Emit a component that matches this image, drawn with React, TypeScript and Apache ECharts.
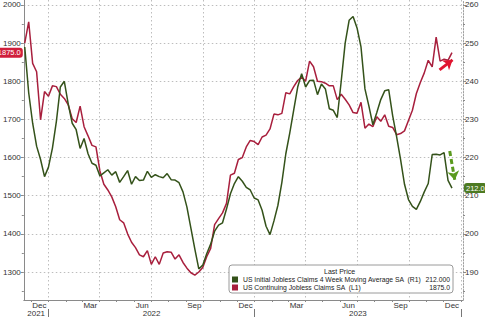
import React, { useEffect, useRef } from "react";
import * as echarts from "echarts";

// ---------- data ----------
const FIRST_WEEK = Date.UTC(2021, 10, 20);
const WEEK_MS = 7 * 86400000;

const continuingClaims = [
  1900, 1956, 1847, 1825, 1699, 1773, 1761, 1788, 1786, 1766,
  1755, 1738, 1702, 1692, 1735, 1681, 1657, 1632, 1628, 1565,
  1530, 1515, 1497, 1471, 1437, 1429, 1400, 1378, 1364, 1345,
  1340, 1356, 1320, 1340, 1320, 1350, 1353, 1352, 1334, 1345,
  1325, 1310, 1298, 1292, 1300, 1312, 1340, 1362, 1424, 1440,
  1455, 1480, 1554, 1559, 1595, 1600, 1628, 1645, 1642, 1634,
  1654, 1659, 1675, 1714, 1712, 1716, 1770, 1767, 1786, 1802,
  1811, 1800, 1853, 1838, 1800, 1799, 1795, 1788, 1788, 1752,
  1766, 1753, 1738, 1718, 1716, 1745, 1677, 1688, 1681, 1707,
  1695, 1712, 1682, 1679, 1660, 1663, 1670, 1697, 1724, 1768,
  1797, 1822, 1855, 1838, 1916, 1853, 1858, 1855, 1875,
];

const initialClaims4wk = [
  249, 237, 229, 223, 219.5, 215, 217.5, 222.5, 229.5, 238.5,
  240, 234, 229, 227.3, 222.4, 225, 221, 218.5, 218, 215.2,
  216, 216.8, 215.4, 216.3, 213.5, 215, 216.6, 213, 215, 214,
  214.1, 216.4, 214.8, 215.5, 215, 214.7, 215.8, 214.2, 214.1, 213.4,
  211, 207, 201.5, 196, 190.8, 191.8, 194.8, 197.3, 200.7, 202.3,
  202.9, 206.5, 210.5, 213.2, 215, 213.8, 212.2, 211.5, 209.4, 208.9,
  206.2, 202, 199.8, 203.4, 207.5, 213.5, 221, 226.5, 232.5, 238.5,
  242, 238.5, 240.2, 240.3, 236.5, 239.3, 238, 232.8, 232.4, 230.5,
  240, 250, 256, 257, 254, 249, 238, 233.5, 228.6, 231.8,
  235.2, 237.5, 237.8, 231, 225.5, 219.5, 213, 209, 207.2, 206.4,
  208.5, 211, 213.2, 220.8, 220.9, 220.7, 221.3, 214, 212,
];

const leftTicks = [1300, 1400, 1500, 1600, 1700, 1800, 1900, 2000];
const leftMinorTicks = [1250, 1350, 1450, 1550, 1650, 1750, 1850, 1950];
const rightTicks = [190, 200, 210, 220, 230, 240, 250, 260];
const rightMinorTicks = [185, 195, 205, 215, 225, 235, 245, 255];

const MONTH_NAMES = ["Jan", "Feb", "Mar", "Apr", "May", "Jun", "Jul", "Aug", "Sep", "Oct", "Nov", "Dec"];
const monthLabelDates: [number, number][] = [
  [2021, 11], [2022, 2], [2022, 5], [2022, 8], [2022, 11],
  [2023, 2], [2023, 5], [2023, 8], [2023, 11],
];
const yearLabels = [2021, 2022, 2023];

const NAME_INITIAL = "US Initial Jobless Claims 4 Week Moving Average SA";
const NAME_CONT = "US Continuing Jobless Claims SA";

// annotation arrows [date, value]
const redArrow: [number, number][] = [
  [Date.UTC(2023, 10, 24), 1830],
  [Date.UTC(2023, 11, 17), 1856],
];
const greenArrow: [number, number][] = [
  [Date.UTC(2023, 11, 12), 221.7],
  [Date.UTC(2023, 11, 21), 214.1],
];

// ---------- layout constants ----------
const X_MIN = Date.UTC(2021, 10, 18, 8);
const X_MAX = Date.UTC(2024, 0, 4, 12);
const FONT = "'Liberation Sans', Arial, sans-serif";
const RED = "#a81f3d";
const GREEN = "#34521a";
const GRID_COLOR = "#bdbdbd";
const AXIS_COLOR = "#8a8a8a";

const monthTicks: number[] = [];
for (let y = 2021; y <= 2024; y++) {
  for (let m = 0; m < 12; m++) {
    const t = Date.UTC(y, m, 1);
    if (t >= X_MIN && t <= X_MAX) monthTicks.push(t);
  }
}
const quarterStarts = monthTicks.filter((t) => new Date(t).getUTCMonth() % 3 === 0);
const yearStarts = monthTicks.filter((t) => new Date(t).getUTCMonth() === 0);
const monthLabelValues = monthLabelDates.map(([y, m]) => Date.UTC(y, m, 16));
const yearLabelValues = yearLabels.map((y) => {
  const a = Math.max(Date.UTC(y, 0, 1), X_MIN);
  const b = Math.min(Date.UTC(y + 1, 0, 1), X_MAX);
  return (a + b) / 2;
});

const dates = continuingClaims.map((_, i) => FIRST_WEEK + i * WEEK_MS);
const lastCont = continuingClaims[continuingClaims.length - 1];
const lastInit = initialClaims4wk[initialClaims4wk.length - 1];

const L_MIN = 1226.6, L_MAX = 2013.1;
const R_MIN = 182.66, R_MAX = 261.31;

export default function App() {
  const ref = useRef<HTMLDivElement>(null);
  useEffect(() => {
    document.body.style.margin = "0";
    const chart = echarts.init(ref.current!, null, { renderer: "svg" });
    const option: any = {
      animation: false,
      backgroundColor: "#ffffff",
      grid: { left: 18, right: 22, top: 0, bottom: 17 },
      xAxis: [
        {
          type: "value",
          min: X_MIN,
          max: X_MAX,
          position: "bottom",
          axisLine: { show: true, onZero: false, lineStyle: { color: AXIS_COLOR, width: 1 } },
          axisTick: { show: true, customValues: monthTicks, length: 2, lineStyle: { color: AXIS_COLOR } },
          axisLabel: {
            customValues: monthLabelValues,
            formatter: (v: number) => MONTH_NAMES[new Date(v).getUTCMonth()],
            fontSize: 8,
            fontFamily: FONT,
            color: "#333",
            margin: 1,
          },
          splitLine: { show: false },
        },
        {
          type: "value",
          min: X_MIN,
          max: X_MAX,
          position: "bottom",
          axisLine: { show: false, onZero: false },
          axisTick: { show: false, customValues: quarterStarts },
          axisLabel: { show: false },
          splitLine: { show: true, lineStyle: { color: GRID_COLOR, type: [1.5, 2.5], width: 1 } },
        },
        {
          type: "value",
          min: X_MIN,
          max: X_MAX,
          position: "bottom",
          offset: 9,
          axisLine: { show: false, onZero: false },
          axisTick: { show: true, customValues: yearStarts, length: 8, lineStyle: { color: "#777" } },
          axisLabel: {
            customValues: yearLabelValues,
            formatter: (v: number) => String(new Date(v).getUTCFullYear()),
            fontSize: 8,
            fontFamily: FONT,
            color: "#333",
            margin: 0,
          },
          splitLine: { show: false },
        },
      ],
      yAxis: [
        {
          type: "value",
          position: "left",
          min: L_MIN,
          max: L_MAX,
          axisLine: { show: true, onZero: false, lineStyle: { color: AXIS_COLOR } },
          axisTick: { show: true, customValues: leftTicks, length: 3, lineStyle: { color: AXIS_COLOR } },
          axisLabel: {
            customValues: leftTicks,
            formatter: (v: number) => String(v),
            fontSize: 8,
            fontFamily: FONT,
            color: "#333",
            margin: 3,
          },
          splitLine: { show: true, lineStyle: { color: GRID_COLOR, type: [1.5, 2.5], width: 1 } },
        },
        {
          type: "value",
          position: "right",
          min: R_MIN,
          max: R_MAX,
          axisLine: { show: true, onZero: false, lineStyle: { color: "#a0a0a0", type: [1.5, 1.5] } },
          axisTick: { show: true, customValues: rightTicks, length: 3, lineStyle: { color: AXIS_COLOR } },
          axisLabel: {
            customValues: rightTicks,
            formatter: (v: number) => String(v),
            fontSize: 8,
            fontFamily: FONT,
            color: "#333",
            margin: 2,
          },
          splitLine: { show: false },
        },
        {
          type: "value",
          position: "left",
          min: L_MIN,
          max: L_MAX,
          axisLine: { show: false, onZero: false },
          axisTick: { show: true, customValues: leftMinorTicks, length: 2, lineStyle: { color: AXIS_COLOR } },
          axisLabel: { show: false },
          splitLine: { show: false },
        },
        {
          type: "value",
          position: "right",
          min: R_MIN,
          max: R_MAX,
          axisLine: { show: false, onZero: false },
          axisTick: { show: true, customValues: rightMinorTicks, length: 2, lineStyle: { color: AXIS_COLOR } },
          axisLabel: { show: false },
          splitLine: { show: false },
        },
      ],
      legend: {
        orient: "vertical",
        left: 229,
        top: 265,
        data: [NAME_INITIAL, NAME_CONT],
        selectedMode: false,
        icon: "rect",
        itemWidth: 6,
        itemHeight: 6,
        itemGap: 1,
        padding: [11, 3, 2, 3],
        backgroundColor: "#ffffff",
        borderColor: "#9a9a9a",
        borderWidth: 1,
        borderRadius: 3,
        textStyle: {
          fontSize: 6.8,
          fontFamily: FONT,
          color: "#222",
          rich: {
            n: { width: 181, fontSize: 6.8, lineHeight: 8, fontFamily: FONT, color: "#222" },
            v: { width: 26, align: "right", fontSize: 6.8, lineHeight: 8, fontFamily: FONT, color: "#222" },
          },
        },
        formatter: (name: string) =>
          name === NAME_INITIAL
            ? `{n|${name}  (R1)}{v|${lastInit.toFixed(3)}}`
            : `{n|${name}  (L1)}{v|${lastCont.toFixed(1)}}`,
      },
      graphic: [
        {
          type: "text",
          x: 324,
          y: 268,
          z: 100,
          style: { text: "Last Price", fontSize: 7, fontFamily: FONT, fill: "#222" },
        },
      ],
      series: [
        {
          name: NAME_CONT,
          type: "line",
          xAxisIndex: 0,
          yAxisIndex: 0,
          data: dates.map((d, i) => [d, continuingClaims[i]]),
          showSymbol: false,
          symbol: "none",
          clip: false,
          lineStyle: { color: RED, width: 1.5 },
          itemStyle: { color: RED },
          markLine: {
            silent: true,
            symbol: "none",
            label: { show: false },
            data: [
              {
                yAxis: lastCont,
                lineStyle: { width: 0, color: "rgba(0,0,0,0)" },
                label: {
                  show: true,
                  position: "start",
                  distance: 1,
                  formatter: lastCont.toFixed(1),
                  backgroundColor: "#d01f3c",
                  color: "#fff",
                  fontSize: 7.5,
                  fontFamily: FONT,
                  padding: [1, 2, 1, 2],
                  borderRadius: 3,
                },
              },
              [
                { coord: redArrow[0], symbol: "none", lineStyle: { color: "#e0142f", width: 3, type: "solid" }, label: { show: false } },
                { coord: redArrow[1], symbol: "arrow", symbolSize: [9, 9] },
              ],
            ],
          },
        },
        {
          name: NAME_INITIAL,
          type: "line",
          xAxisIndex: 0,
          yAxisIndex: 1,
          data: dates.map((d, i) => [d, initialClaims4wk[i]]),
          showSymbol: false,
          symbol: "none",
          clip: false,
          lineStyle: { color: GREEN, width: 1.5 },
          itemStyle: { color: GREEN },
          markLine: {
            silent: true,
            symbol: "none",
            label: { show: false },
            data: [
              {
                yAxis: lastInit,
                lineStyle: { width: 0, color: "rgba(0,0,0,0)" },
                label: {
                  show: true,
                  position: "end",
                  distance: 1,
                  formatter: lastInit.toFixed(1),
                  backgroundColor: "#4d7a22",
                  color: "#fff",
                  fontSize: 7.5,
                  fontFamily: FONT,
                  padding: [1, 2, 1, 2],
                  borderRadius: 3,
                },
              },
              [
                { coord: greenArrow[0], symbol: "none", lineStyle: { color: "#5a9a1e", width: 3, type: [5, 3] }, label: { show: false } },
                { coord: greenArrow[1], symbol: "arrow", symbolSize: [9, 9] },
              ],
            ],
          },
        },
      ],
    };
    chart.setOption(option);
    return () => chart.dispose();
  }, []);
  return <div ref={ref} style={{ width: 485, height: 317 }} />;
}
